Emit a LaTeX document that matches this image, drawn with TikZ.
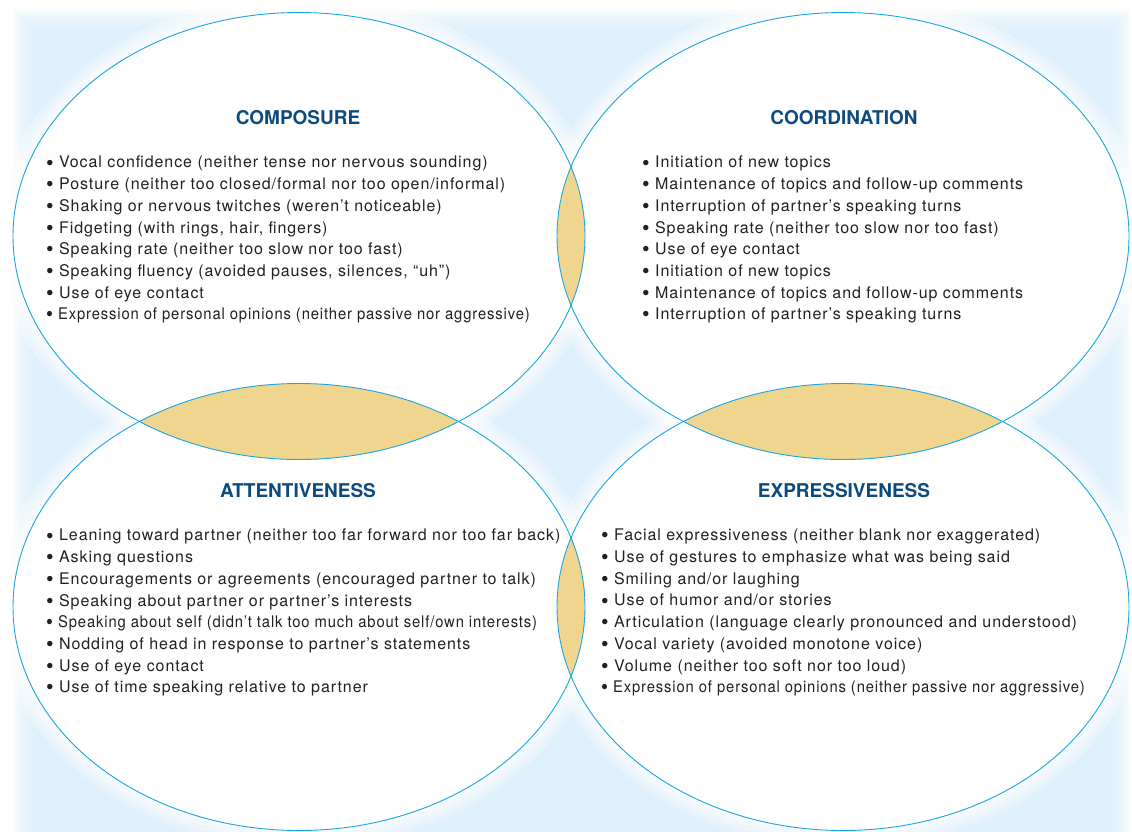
\documentclass[tikz,border=0pt]{standalone}
\usepackage{fontspec}
\setmainfont{TeX Gyre Heros}
\usepackage{graphicx}
\usetikzlibrary{positioning}
\definecolor{bgblue}{HTML}{DCEFFB}
\definecolor{lineblue}{HTML}{1AA6E2}
\definecolor{lenstan}{HTML}{F0D58F}
\definecolor{titleblue}{HTML}{0D4A7E}
\definecolor{bodytext}{HTML}{231F20}
\newcommand{\narrow}[1]{\scalebox{0.925}[1]{#1}}
\newcommand{\blt}{\raisebox{-0.25ex}{\scalebox{1.35}{\textbullet}}\ }

\begin{document}
\begin{tikzpicture}[
    x=1pt, y=-1pt,
    oval/.style={x radius=286, y radius=223.5},
    rim/.style={draw=lineblue, line width=0.9pt},
    heading/.style={font=\fontsize{19}{22}\selectfont\bfseries, text=titleblue,
        inner sep=0pt, anchor=base},
    items/.style={font=\fontsize{16}{21.7}\selectfont\addfontfeatures{LetterSpace=5.8},
        text=bodytext, align=left, inner sep=0pt, anchor=north west},
]
\useasboundingbox (0, 0) rectangle (1132, 831);

% Centres of the four ovals
\coordinate (tl) at (299, 236);
\coordinate (tr) at (843, 236);
\coordinate (bl) at (299, 607);
\coordinate (br) at (843, 607);

% Soft blue backdrop
\foreach \i in {0,...,11}
    \fill[bgblue, opacity=0.22] (14+2.5*\i, 10+2.5*\i) rectangle (1130-2.5*\i, 850);

% White glow round the ovals, then the white ovals
\foreach \w in {34,24,15,8}
    \foreach \c in {tl,tr,bl,br}
        \draw[white, opacity=0.3, line width=\w pt] (\c) ellipse [oval];
\foreach \c in {tl,tr,bl,br}
    \fill[white] (\c) ellipse [oval];

% Overlaps
\foreach \a/\b in {tl/tr, tl/bl, tr/br, bl/br} {
    \begin{scope}
        \clip (\a) ellipse [oval];
        \fill[lenstan] (\b) ellipse [oval];
    \end{scope}
}

% Outlines
\foreach \c in {tl,tr,bl,br}
    \draw[rim] (\c) ellipse [oval];

% Composure
\node[heading] (compTitle) at (298, 124) {COMPOSURE};
\node[items] (compList) at (46, 156) {%
    \blt Vocal confidence (neither tense nor nervous sounding)\\
    \blt Posture (neither too closed/formal nor too open/informal)\\
    \blt Shaking or nervous twitches (weren’t noticeable)\\
    \blt Fidgeting (with rings, hair, fingers)\\
    \blt Speaking rate (neither too slow nor too fast)\\
    \blt Speaking fluency (avoided pauses, silences, “uh”)\\
    \blt Use of eye contact\\
    \narrow{\blt Expression of personal opinions (neither passive nor aggressive)}};

% Coordination
\node[heading] (coorTitle) at (844, 124) {COORDINATION};
\node[items] (coorList) at (642, 156) {%
    \blt Initiation of new topics\\
    \blt Maintenance of topics and follow-up comments\\
    \blt Interruption of partner’s speaking turns\\
    \blt Speaking rate (neither too slow nor too fast)\\
    \blt Use of eye contact\\
    \blt Initiation of new topics\\
    \blt Maintenance of topics and follow-up comments\\
    \blt Interruption of partner’s speaking turns};

% Attentiveness
\node[heading] (attnTitle) at (298, 497) {ATTENTIVENESS};
\node[items] (attnList) at (46, 529) {%
    \blt Leaning toward partner (neither too far forward nor too far back)\\
    \blt Asking questions\\
    \blt Encouragements or agreements (encouraged partner to talk)\\
    \blt Speaking about partner or partner’s interests\\
    \narrow{\blt Speaking about self (didn’t talk too much about self/own interests)}\\
    \blt Nodding of head in response to partner’s statements\\
    \blt Use of eye contact\\
    \blt Use of time speaking relative to partner};

% Expressiveness
\node[heading] (exprTitle) at (844, 497) {EXPRESSIVENESS};
\node[items] (exprList) at (601, 529) {%
    \blt Facial expressiveness (neither blank nor exaggerated)\\
    \blt Use of gestures to emphasize what was being said\\
    \blt Smiling and/or laughing\\
    \blt Use of humor and/or stories\\
    \blt Articulation (language clearly pronounced and understood)\\
    \blt Vocal variety (avoided monotone voice)\\
    \blt Volume (neither too soft nor too loud)\\
    \narrow{\blt Expression of personal opinions (neither passive nor aggressive)}};
\end{tikzpicture}
\end{document}
